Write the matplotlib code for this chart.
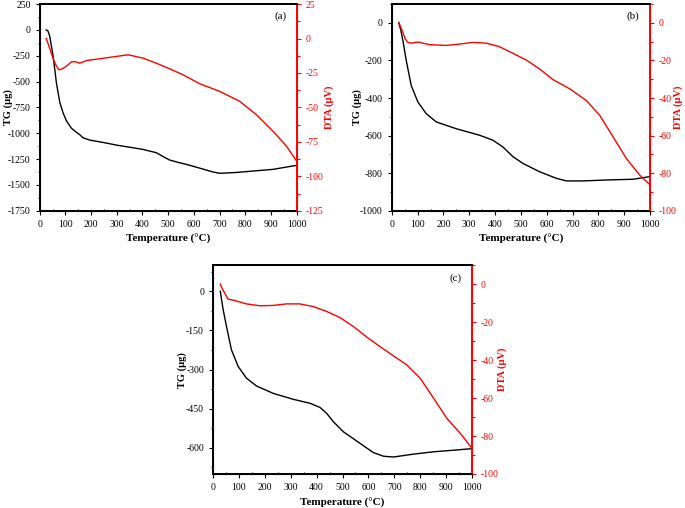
import matplotlib.pyplot as plt
from matplotlib.ticker import MultipleLocator

plt.rcParams['font.family'] = ['Liberation Serif', 'DejaVu Serif']
plt.rcParams['axes.unicode_minus'] = False

# (a)
temp_a = [25, 32, 39, 52, 65, 78, 91, 104, 123, 140, 155, 169, 195, 250, 298, 350, 402, 454, 480, 506, 540, 570, 620, 674, 700, 760, 817, 908, 1000]
tg_a = [0, -10, -60, -250, -514, -700, -803, -880, -950, -985, -1012, -1044, -1066, -1090, -1114, -1135, -1156, -1188, -1225, -1259, -1282, -1300, -1335, -1374, -1387, -1380, -1368, -1349, -1310]
dta_temp_a = [25, 35, 45, 55, 65, 75, 88, 104, 123, 136, 156, 182, 233, 298, 344, 402, 454, 506, 558, 623, 700, 778, 843, 908, 960, 1000]
dta_a = [0, -5, -10.6, -16, -20, -22.7, -22, -20, -17, -16.7, -17.9, -16, -14.7, -13, -11.8, -14.2, -17.9, -22, -26.3, -32.8, -38.3, -45.5, -55.2, -67.2, -78, -88.9]

# (b)
temp_b = [27, 35, 43, 56, 75, 101, 133, 172, 249, 340, 391, 430, 469, 508, 572, 637, 676, 740, 831, 934, 1000]
tg_b = [0, -40, -95, -201, -333, -421, -483, -527, -563, -598, -624, -660, -712, -748, -792, -827, -841, -841, -836, -832, -818]
dta_temp_b = [27, 35, 43, 52, 62, 75, 101, 146, 211, 262, 314, 366, 417, 469, 521, 572, 624, 689, 753, 805, 857, 908, 960, 1000]
dta_b = [0.3, -2.5, -5.1, -8.5, -10.4, -10.8, -10.2, -11.6, -12, -11.3, -10.4, -10.8, -12.7, -16.2, -19.8, -24.5, -30.2, -35.1, -41.3, -49.2, -60.7, -72.1, -81, -86.2]

# (c)
temp_c = [28, 39, 52, 71, 97, 129, 168, 232, 310, 374, 413, 439, 465, 503, 568, 619, 658, 697, 774, 852, 929, 1000]
tg_c = [0, -70, -135, -224, -288, -333, -363, -391, -414, -429, -445, -468, -500, -538, -583, -618, -632, -635, -624, -615, -609, -603]
dta_temp_c = [28, 36, 45, 58, 84, 129, 181, 232, 284, 335, 387, 439, 490, 542, 594, 645, 697, 748, 800, 852, 903, 955, 1000]
dta_c = [0, -2.5, -4.7, -7.9, -8.6, -10.4, -11.4, -11.2, -10.4, -10.4, -11.8, -14.4, -17.6, -22.3, -27.9, -32.9, -37.8, -42.5, -49.6, -60.1, -70.7, -78.6, -86.5]

panels = [
    ('(a)', temp_a, tg_a, dta_temp_a, dta_a, (-1750, 250), 250, 125, (-125, 25), 25, 12.5,
     [0.058, 0.585, 0.375, 0.407], -0.105, 1.109),
    ('(b)', temp_b, tg_b, dta_temp_b, dta_b, (-1000, 100), 200, 100, (-100, 10), 20, 10,
     [0.572, 0.585, 0.377, 0.407], -0.116, 1.089),
    ('(c)', temp_c, tg_c, dta_temp_c, dta_c, (-700, 100), 150, 75, (-100, 10), 20, 10,
     [0.311, 0.067, 0.378, 0.411], -0.10, 1.10),
]

fig = plt.figure(figsize=(6.85, 5.08), dpi=100)

for (tag, t, tg, td, dta, tg_lim, tg_step, tg_minor, dta_lim, dta_step, dta_minor, rect, lx, rx) in panels:
    ax = fig.add_axes(rect)
    ax.plot(t, tg, color='black', lw=1.0)
    ax.set_xlim(0, 1000)
    ax.set_ylim(*tg_lim)
    ax.xaxis.set_major_locator(MultipleLocator(100))
    ax.xaxis.set_minor_locator(MultipleLocator(50))
    ax.yaxis.set_major_locator(MultipleLocator(tg_step))
    ax.yaxis.set_minor_locator(MultipleLocator(tg_minor))
    ax.tick_params(which='both', direction='out', labelsize=7, width=0.8)
    ax.tick_params(which='major', length=3)
    ax.tick_params(which='minor', length=1.8)
    ax.tick_params(axis='x', which='minor', direction='in')
    ax.set_xlabel('Temperature (°C)', fontsize=8, fontweight='bold', labelpad=4)
    ax.set_ylabel('TG (µg)', fontsize=7.5, fontweight='bold')
    ax.yaxis.set_label_coords(lx, 0.5)
    for s in ['left', 'bottom', 'top']:
        ax.spines[s].set_linewidth(1.4)

    ax2 = ax.twinx()
    ax2.plot(td, dta, color='red', lw=1.0)
    ax2.set_ylim(*dta_lim)
    ax2.yaxis.set_major_locator(MultipleLocator(dta_step))
    ax2.yaxis.set_minor_locator(MultipleLocator(dta_minor))
    ax2.tick_params(which='both', direction='out', labelsize=7, colors='red', width=0.8)
    ax2.tick_params(which='major', length=3)
    ax2.tick_params(which='minor', length=1.8)
    ax2.spines['right'].set_color('red')
    ax2.spines['right'].set_linewidth(1.4)
    ax2.spines['top'].set_linewidth(1.4)
    ax2.set_ylabel('DTA (µV)', fontsize=7.5, fontweight='bold', color='red')
    ax2.yaxis.set_label_coords(rx, 0.5)

    ax.text(0.96, 0.94, tag, transform=ax.transAxes, ha='right', va='center', fontsize=8)

fig.savefig('out.png', dpi=100)
